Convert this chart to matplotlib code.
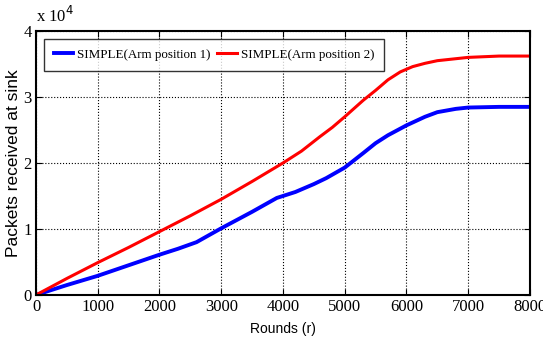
import numpy as np
import matplotlib.pyplot as plt


# data (y in units of 10^4 packets)
rounds_1 = [0, 500, 1000, 1500, 2000, 2300, 2600, 3000, 3500, 3900, 4200, 4500, 4700, 5000, 5300, 5500, 5700, 6000, 6300, 6500, 6800, 7000, 7500, 8000]
arm_pos_1 = [0, 0.15, 0.29, 0.45, 0.61, 0.70, 0.80, 1.01, 1.26, 1.47, 1.56, 1.68, 1.77, 1.93, 2.15, 2.30, 2.42, 2.57, 2.70, 2.77, 2.82, 2.84, 2.85, 2.85]

rounds_2 = [0, 500, 1000, 1500, 2000, 2500, 3000, 3500, 4000, 4300, 4600, 4800, 5000, 5300, 5500, 5700, 5900, 6100, 6300, 6500, 7000, 7500, 8000]
arm_pos_2 = [0, 0.25, 0.49, 0.72, 0.96, 1.20, 1.45, 1.72, 2.00, 2.18, 2.40, 2.54, 2.70, 2.95, 3.10, 3.26, 3.38, 3.46, 3.51, 3.55, 3.60, 3.62, 3.62]

xticks = [0, 1000, 2000, 3000, 4000, 5000, 6000, 7000, 8000]
yticks = [0, 1, 2, 3, 4]

serif = "Liberation Serif"
sans = "Liberation Sans"

fig = plt.figure(figsize=(5.43, 3.47), dpi=100)
ax = fig.add_axes([0.0663, 0.15, 0.9097, 0.7607])

ax.plot(rounds_1, arm_pos_1, color="blue", linewidth=2.8, label="SIMPLE(Arm position 1)")
ax.plot(rounds_2, arm_pos_2, color="red", linewidth=2.2, label="SIMPLE(Arm position 2)")

ax.set_xlim(0, 8000)
ax.set_ylim(0, 4)
ax.set_xticks(xticks)
ax.set_yticks(yticks)
ax.tick_params(direction="in", top=True, right=True, length=4, width=0.8, pad=3)
for lab in ax.get_xticklabels() + ax.get_yticklabels():
    lab.set_family(serif)
    lab.set_fontsize(12)
ax.grid(True, color="black", linestyle=":", linewidth=0.8)
for sp in ax.spines.values():
    sp.set_linewidth(1.5)

ax.set_xlabel("Rounds (r)", family=sans, fontsize=10, labelpad=5)
ax.set_ylabel("Packets received at sink", family=sans, fontsize=12.5, labelpad=2)
ax.text(0.0, 1.02, r"x 10$^4$", transform=ax.transAxes, family=serif, fontsize=12, ha="left", va="bottom")

leg = ax.legend(loc="upper left", ncol=2, prop={"family": serif, "size": 9.4}, frameon=True,
                fancybox=False, edgecolor="black", handlelength=1.5, handletextpad=0.3,
                columnspacing=0.5, borderaxespad=0.6, borderpad=0.75)
leg.get_frame().set_linewidth(1.0)

plt.savefig("out.png", dpi=100)
